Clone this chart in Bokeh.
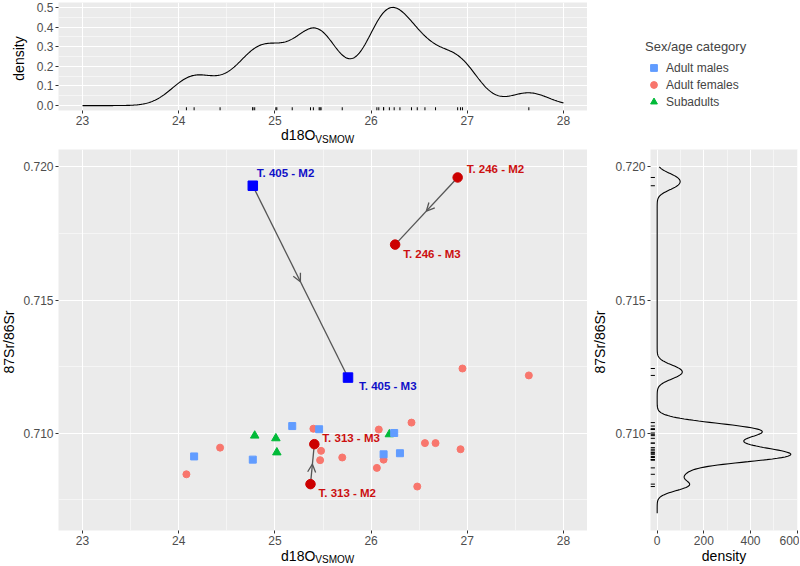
import numpy as np
from bokeh.plotting import figure
from bokeh.layouts import row, column
from bokeh.models import (FixedTicker, PrintfTickFormatter, Label, Legend, LegendItem,
                          Arrow, OpenHead, ColumnDataSource, Range1d)
from bokeh.core.properties import value
from bokeh.embed import file_html
from bokeh.resources import INLINE

# ---------------- data ----------------
males_x = [24.16, 24.77, 25.18, 25.46, 26.13, 26.24, 26.30]
males_y = [0.70913, 0.70901, 0.71027, 0.71015, 0.70921, 0.71001, 0.70925]

females_x = [24.08, 24.43, 25.40, 25.47, 25.48, 25.70, 26.06, 26.08,
             26.13, 26.42, 26.48, 26.56, 26.67, 26.93, 26.95, 27.64]
females_y = [0.70846, 0.70946, 0.71017, 0.70899, 0.70934, 0.70909, 0.70870, 0.71014,
             0.70901, 0.71040, 0.70800, 0.70963, 0.70963, 0.70940, 0.71243, 0.71217]

sub_x = [24.79, 25.01, 25.02, 26.19]
sub_y = [0.70991, 0.70981, 0.70928, 0.70996]

hl_labels = ["T. 405 - M2", "T. 405 - M3", "T. 246 - M2", "T. 246 - M3", "T. 313 - M2", "T. 313 - M3"]
hl_tooth = ["M2", "M3", "M2", "M3", "M2", "M3"]
hl_group = ["male", "male", "female", "female", "female", "female"]
hl_x = [24.77, 25.76, 26.90, 26.25, 25.37, 25.41]
hl_y = [0.71929, 0.71209, 0.71960, 0.71708, 0.70809, 0.70959]

x_limits = (23, 28)
y_limits = (0.707, 0.720)
x_ticks = [23, 24, 25, 26, 27, 28]
x_minor = [23.5, 24.5, 25.5, 26.5, 27.5]
y_ticks = [0.710, 0.715, 0.720]
y_minor = [0.7075, 0.7125, 0.7175]
top_ticks = [0.0, 0.1, 0.2, 0.3, 0.4, 0.5]
top_minor = [0.05, 0.15, 0.25, 0.35, 0.45]
right_ticks = [0, 200, 400, 600]
right_minor = [100, 300, 500]

legend_title = "Sex/age category"
legend_labels = ["Adult males", "Adult females", "Subadults"]
x_title = "d18O"
x_title_sub = "VSMOW"
y_title = "87Sr/86Sr"
dens_title = "density"

# ---------------- style / layout constants ----------------
FONT = "Liberation Sans"
LEFT_TOTAL = 58      # x of the left panels' frame
LT_W = 28            # strip holding the top panel's y title
LM_W = 17            # strip holding the main panel's y title
MAIN_W = 529
TOP_H = 108
MAIN_H = 381
AX_B = 18
STRIP1 = 19
STRIP2 = 16
RS_W = 22
RIGHT_AX = 41
RIGHT_W = 147
RIGHT_R = 2
LEG_W = RS_W + RIGHT_AX + RIGHT_W + RIGHT_R
TOP_OUT = 2 + TOP_H + AX_B
MAIN_OUT = 2 + MAIN_H + AX_B
LEG_H = TOP_OUT + STRIP1
BW_X = 0.205
BW_Y = 0.0002
TITLE_SIZE = "14px"

C_MALE = "#619CFF"
C_FEMALE = "#F8766D"
C_SUB = "#00BA38"
C_HL = {"male": "#0000FF", "female": "#CC0000"}
C_HL_TEXT = {"male": "#1010C8", "female": "#CC1010"}
label_dx = [4, 11, 9, 8, 8, 8]
label_dy = [-13, 8, -8, 9, 9, -6]
XT = 25.42


def expand(lim, f=0.05):
    w = lim[1] - lim[0]
    return (lim[0] - f * w, lim[1] + f * w)


def kde(vals, grid, bw):
    v = np.asarray(vals, dtype=float)[:, None]
    z = (grid[None, :] - v) / bw
    return np.exp(-0.5 * z ** 2).sum(axis=0) / (len(vals) * bw * np.sqrt(2 * np.pi))


# marginal densities use the M2 teeth only
dens_x = males_x + females_x + sub_x + [x for x, t in zip(hl_x, hl_tooth) if t == "M2"]
dens_y = males_y + females_y + sub_y + [y for y, t in zip(hl_y, hl_tooth) if t == "M2"]

gx = np.linspace(x_limits[0], x_limits[1], 512)
dx = kde(dens_x, gx, BW_X)
gy = np.linspace(y_limits[0], y_limits[1], 512)
dy = kde(dens_y, gy, BW_Y)

xr_lim = expand(x_limits)
yr_lim = expand(y_limits)
top_lim = expand((0, float(dx.max())))
right_lim = expand((0, float(dy.max())))

x_range = Range1d(*xr_lim)
y_range = Range1d(*yr_lim)
r_range = Range1d(*right_lim)


def style(p):
    p.background_fill_color = "#EBEBEB"
    p.border_fill_color = "white"
    p.outline_line_color = None
    p.grid.grid_line_color = "white"
    p.grid.grid_line_width = 1.1
    p.grid.minor_grid_line_color = "white"
    p.grid.minor_grid_line_width = 0.5
    for ax in p.axis:
        ax.axis_line_color = None
        ax.major_tick_line_color = "#333333"
        ax.major_tick_line_width = 1
        ax.major_tick_out = 3
        ax.major_tick_in = 0
        ax.minor_tick_line_color = None
        ax.major_label_text_font = FONT
        ax.major_label_text_font_size = "12px"
        ax.major_label_text_color = "#4D4D4D"
        ax.major_label_standoff = 1


def strip(w, h, x_rng=None, left=0, right=0):
    if x_rng is None:
        x_rng = Range1d(0, w - left - right)
    s = figure(frame_width=w - left - right, frame_height=h, x_range=x_rng,
               y_range=Range1d(0, h), min_border_left=left, min_border_right=right,
               min_border_top=0, min_border_bottom=0, x_axis_location=None,
               y_axis_location=None, output_backend="svg", toolbar_location=None)
    s.grid.visible = False
    s.outline_line_color = None
    s.background_fill_color = "white"
    s.border_fill_color = "white"
    return s


def add_text(p, x, y, text, size, align="center", angle=0.0):
    p.add_layout(Label(x=x, y=y, text=text, text_font=FONT, text_font_size=size,
                       text_align=align, text_baseline="middle", text_color="black",
                       angle=angle))


# ---------------- top density ----------------
top = figure(frame_width=MAIN_W, frame_height=TOP_H, x_range=x_range,
             y_range=Range1d(*top_lim), output_backend="svg", toolbar_location=None,
             min_border_left=LEFT_TOTAL - LT_W, min_border_right=0, min_border_top=2,
             min_border_bottom=AX_B)
top.xaxis.ticker = FixedTicker(ticks=x_ticks, minor_ticks=x_minor)
top.yaxis.ticker = FixedTicker(ticks=top_ticks, minor_ticks=top_minor)
top.xaxis.formatter = PrintfTickFormatter(format="%d")
top.yaxis.formatter = PrintfTickFormatter(format="%.1f")
style(top)
top.line(gx, dx, line_color="black", line_width=1.1)
rug_len_top = 0.03 * (top_lim[1] - top_lim[0])
top.segment(x0=dens_x, y0=[top_lim[0]] * len(dens_x), x1=dens_x,
            y1=[top_lim[0] + rug_len_top] * len(dens_x), line_color="black", line_width=1)

lt = strip(LT_W, TOP_OUT)
add_text(lt, 18.5, TOP_OUT - (2 + TOP_H / 2), dens_title, TITLE_SIZE, angle=np.pi / 2)

s1 = strip(LEFT_TOTAL + MAIN_W, STRIP1, x_rng=x_range, left=LEFT_TOTAL)
add_text(s1, XT, STRIP1 - 6.5, x_title, TITLE_SIZE, align="right")
add_text(s1, XT, STRIP1 - 10.5, x_title_sub, "10px", align="left")

# ---------------- main scatter ----------------
main = figure(frame_width=MAIN_W, frame_height=MAIN_H, x_range=x_range, y_range=y_range,
              output_backend="svg", toolbar_location=None,
              min_border_left=LEFT_TOTAL - LM_W, min_border_right=0, min_border_top=2,
              min_border_bottom=AX_B)
main.xaxis.ticker = FixedTicker(ticks=x_ticks, minor_ticks=x_minor)
main.yaxis.ticker = FixedTicker(ticks=y_ticks, minor_ticks=y_minor)
main.xaxis.formatter = PrintfTickFormatter(format="%d")
main.yaxis.formatter = PrintfTickFormatter(format="%.3f")
style(main)

# M2 -> M3 connections with an arrowhead at the midpoint
x0s, y0s, x1s, y1s, mxs, mys = [], [], [], [], [], []
for i in range(0, len(hl_x), 2):
    x0s.append(hl_x[i]); y0s.append(hl_y[i])
    x1s.append(hl_x[i + 1]); y1s.append(hl_y[i + 1])
    mxs.append((hl_x[i] + hl_x[i + 1]) / 2); mys.append((hl_y[i] + hl_y[i + 1]) / 2)
main.segment(x0=x0s, y0=y0s, x1=x1s, y1=y1s, line_color="#555555", line_width=1.3)
arr_src = ColumnDataSource(dict(x0=x0s, y0=y0s, x1=mxs, y1=mys))
main.add_layout(Arrow(end=OpenHead(size=8, line_color="#555555", line_width=1.3),
                      x_start="x0", y_start="y0", x_end="x1", y_end="y1",
                      source=arr_src, line_alpha=0))

main.scatter(females_x, females_y, marker="circle", size=7, color=C_FEMALE)
main.scatter(sub_x, sub_y, marker="triangle", size=8.5, color=C_SUB)
main.scatter(males_x, males_y, marker="square", size=7, color=C_MALE)

hl_src = ColumnDataSource(dict(
    x=hl_x, y=hl_y, label=hl_labels,
    marker=["square" if g == "male" else "circle" for g in hl_group],
    color=[C_HL[g] for g in hl_group],
    tcolor=[C_HL_TEXT[g] for g in hl_group],
    dx=label_dx, dy=label_dy))
main.scatter("x", "y", marker="marker", size=9.5, color="color", source=hl_src)
main.text("x", "y", text="label", x_offset="dx", y_offset="dy", source=hl_src,
          text_color="tcolor", text_font=value(FONT), text_font_style="bold",
          text_font_size="11.5px", text_align="left", text_baseline="middle")

lm = strip(LM_W, MAIN_OUT)
add_text(lm, LM_W / 2, MAIN_OUT - (2 + MAIN_H / 2), y_title, TITLE_SIZE, angle=np.pi / 2)

s2 = strip(LEFT_TOTAL + MAIN_W, STRIP2, x_rng=x_range, left=LEFT_TOTAL)
add_text(s2, XT, STRIP2 - 7.5, x_title, TITLE_SIZE, align="right")
add_text(s2, XT, STRIP2 - 11, x_title_sub, "10px", align="left")

# ---------------- right density ----------------
right = figure(frame_width=RIGHT_W, frame_height=MAIN_H, x_range=r_range,
               y_range=y_range, output_backend="svg", toolbar_location=None,
               min_border_left=RIGHT_AX, min_border_right=RIGHT_R,
               min_border_top=2, min_border_bottom=AX_B)
right.xaxis.ticker = FixedTicker(ticks=right_ticks, minor_ticks=right_minor)
right.yaxis.ticker = FixedTicker(ticks=y_ticks, minor_ticks=y_minor)
right.xaxis.formatter = PrintfTickFormatter(format="%d")
right.yaxis.formatter = PrintfTickFormatter(format="%.3f")
style(right)
right.line(dy, gy, line_color="black", line_width=1.1)
rug_len_r = 0.03 * (right_lim[1] - right_lim[0])
right.segment(x0=[right_lim[0]] * len(dens_y), y0=dens_y,
              x1=[right_lim[0] + rug_len_r] * len(dens_y), y1=dens_y,
              line_color="black", line_width=1)

rs = strip(RS_W, MAIN_OUT)
add_text(rs, 12.5, MAIN_OUT - (2 + MAIN_H / 2), y_title, TITLE_SIZE, angle=np.pi / 2)

s3 = strip(LEG_W, STRIP2, x_rng=r_range, left=RS_W + RIGHT_AX, right=RIGHT_R)
add_text(s3, (right_lim[0] + right_lim[1]) / 2, STRIP2 - 7.5, dens_title, TITLE_SIZE)

# ---------------- legend panel ----------------
leg = figure(frame_width=LEG_W, frame_height=LEG_H, x_range=Range1d(0, 1), y_range=Range1d(0, 1),
             output_backend="svg", toolbar_location=None, min_border=0,
             x_axis_location=None, y_axis_location=None)
leg.grid.visible = False
leg.outline_line_color = None
leg.background_fill_color = "white"
leg.border_fill_color = "white"
r1 = leg.scatter(x=[-10], y=[-10], marker="square", size=8, color=C_MALE)
r2 = leg.scatter(x=[-10], y=[-10], marker="circle", size=8, color=C_FEMALE)
r3 = leg.scatter(x=[-10], y=[-10], marker="triangle", size=9.5, color=C_SUB)
legend = Legend(items=[LegendItem(label=legend_labels[0], renderers=[r1]),
                       LegendItem(label=legend_labels[1], renderers=[r2]),
                       LegendItem(label=legend_labels[2], renderers=[r3])],
                location=(58, 37), title=legend_title,
                title_text_font=FONT, title_text_font_size="13px",
                title_text_font_style="normal", title_standoff=5,
                label_text_font=FONT, label_text_font_size="12px",
                glyph_width=17, glyph_height=17, label_height=17, label_standoff=4,
                spacing=0, padding=0, margin=0,
                border_line_color=None, background_fill_alpha=0)
leg.add_layout(legend)

layout = row(column(row(lt, top), s1, row(lm, main), s2),
             column(leg, row(rs, right), s3))

open("out.html", "w").write(file_html(layout, INLINE))
